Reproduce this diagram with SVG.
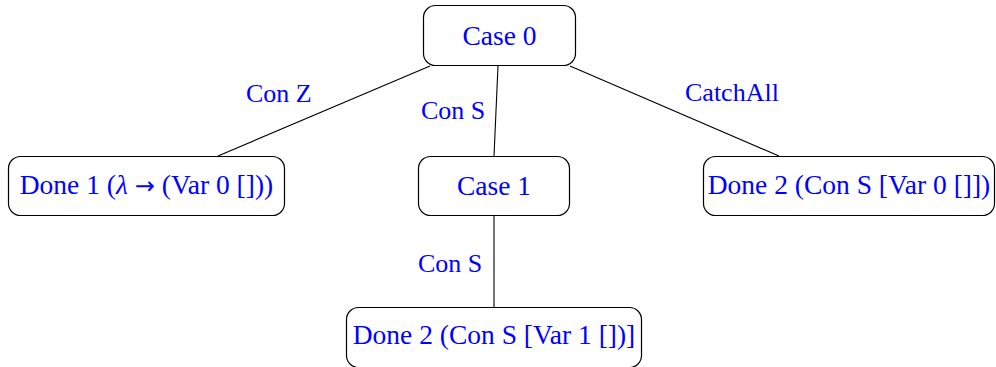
<svg xmlns="http://www.w3.org/2000/svg" width="996" height="367" viewBox="0 0 996 367">
<style>
.box{fill:#fff;stroke:#000;stroke-width:1.2}
.t{font-family:"Liberation Serif","DejaVu Serif",serif;font-size:26px;fill:#0000ff}
.n{font-size:27.5px}
.m{text-anchor:middle}
.e{stroke:#000;stroke-width:1.1;fill:none}
</style>
<rect width="996" height="367" fill="#fff"/>
<g id="edges">
<line class="e" x1="430" y1="66" x2="218" y2="156"/>
<line class="e" x1="498" y1="66" x2="494" y2="156"/>
<line class="e" x1="570" y1="66" x2="779" y2="156"/>
<line class="e" x1="494" y1="216" x2="494" y2="307"/>
<text class="t" x="246" y="102">Con Z</text>
<text class="t" x="421" y="119">Con S</text>
<text class="t" x="685" y="101">CatchAll</text>
<text class="t" x="418" y="272">Con S</text>
</g>
<g id="case0">
<rect class="box" x="423.5" y="5.5" width="152" height="60" rx="12"/>
<text class="t n m" x="499.5" y="45">Case 0</text>
</g>
<g id="done1">
<rect class="box" x="8.5" y="156.5" width="276" height="59" rx="12"/>
<text class="t n m" x="146.5" y="194">Done 1 (<tspan font-style="italic">λ</tspan> <tspan font-family="DejaVu Sans, sans-serif" font-size="24">→</tspan> (Var 0 []))</text>
</g>
<g id="case1">
<rect class="box" x="418.5" y="156.5" width="151" height="59" rx="12"/>
<text class="t n m" x="494" y="195">Case 1</text>
</g>
<g id="done2a">
<rect class="box" x="703.5" y="156.5" width="291" height="59" rx="12"/>
<text class="t n m" x="849" y="194">Done 2 (Con S [Var 0 []])</text>
</g>
<g id="done2b">
<rect class="box" x="346.5" y="307.5" width="295" height="60" rx="12"/>
<text class="t n m" x="494" y="344">Done 2 (Con S [Var 1 [])]</text>
</g>
</svg>
